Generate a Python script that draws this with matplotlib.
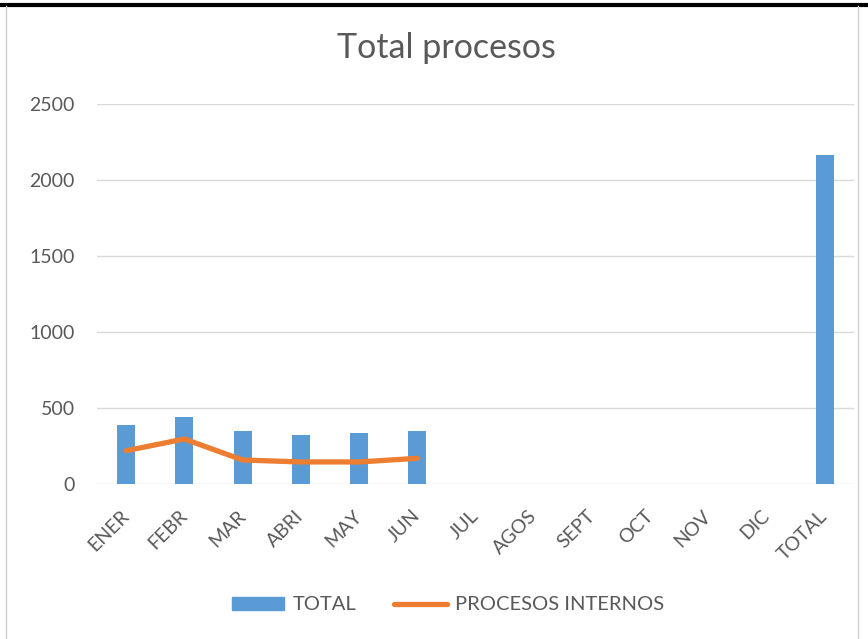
import matplotlib
matplotlib.use("Agg")
import matplotlib.pyplot as plt
from matplotlib.lines import Line2D

months = ["ENER", "FEBR", "MAR", "ABRI", "MAY", "JUN", "JUL", "AGOS",
          "SEPT", "OCT", "NOV", "DIC", "TOTAL"]
total = [388, 439, 347, 320, 333, 347, 0, 0, 0, 0, 0, 0, 2165]
internos = [219, 296, 158, 145, 145, 169]

plt.rcParams["font.family"] = ["Lato", "DejaVu Sans"]
grey = "#595959"

fig = plt.figure(figsize=(8.68, 6.39), dpi=100)
ax = fig.add_axes([97 / 868, 1 - 484 / 639, (854 - 97) / 868, (484 - 104) / 639])

x = list(range(len(months)))
ax.bar(x, total, width=0.31, color="#5B9BD5", label="TOTAL", zorder=3)
ax.plot(x[:len(internos)], internos, color="#ED7D31", lw=3.8,
        solid_capstyle="round", label="PROCESOS INTERNOS", zorder=4)

ax.set_xlim(-0.5, len(months) - 0.5)
ax.set_ylim(0, 2500)
ax.set_yticks([0, 500, 1000, 1500, 2000, 2500])
ax.grid(axis="y", color="#D9D9D9", lw=1.0, zorder=0)
for s in ax.spines.values():
    s.set_visible(False)
ax.tick_params(length=0, colors=grey, labelsize=14)
ax.tick_params(axis="y", pad=16)
ax.set_xticks(x)
ax.set_xticklabels(months, rotation=45, ha="right", va="center",
                   rotation_mode="anchor")
ax.tick_params(axis="x", pad=21)

fig.text(446 / 868, 1 - 48 / 639, "Total procesos", ha="center", va="center",
         fontsize=24.5, color=grey)

handles = [plt.Rectangle((0, 0), 1, 1, color="#5B9BD5"),
           Line2D([], [], color="#ED7D31", lw=3.8, solid_capstyle="round")]
fig.legend(handles, ["TOTAL", "PROCESOS INTERNOS"], loc="center",
           bbox_to_anchor=(448 / 868, 1 - 605 / 639), ncol=2, frameon=False,
           fontsize=14.5, labelcolor=grey, handlelength=2.6, handleheight=0.65,
           handletextpad=0.4, columnspacing=1.9)

# frame lines of the screenshot
fig.add_artist(Line2D([0, 1], [1 - 5 / 639, 1 - 5 / 639], color="black", lw=3))
fig.add_artist(Line2D([6 / 868, 6 / 868], [0, 1 - 6 / 639], color="#D0D0D0", lw=1))
fig.add_artist(Line2D([858 / 868, 858 / 868], [0, 1 - 6 / 639], color="#D0D0D0", lw=1))

fig.savefig("out.png", dpi=100)
